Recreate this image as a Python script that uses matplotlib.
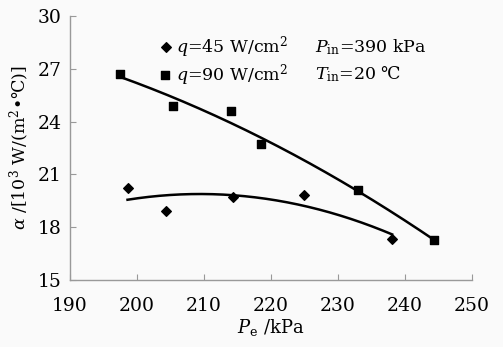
import numpy as np
import matplotlib
matplotlib.use("Agg")
import matplotlib.pyplot as plt

# heat transfer coefficient vs evaporating pressure
pe_45 = [198.6, 204.3, 214.4, 224.9, 238.1]
alpha_45 = [20.2, 18.9, 19.7, 19.85, 17.35]
pe_90 = [197.5, 205.4, 214.0, 218.5, 233.0, 244.4]
alpha_90 = [26.7, 24.9, 24.6, 22.7, 20.1, 17.25]

xticks = [190, 200, 210, 220, 230, 240, 250]
yticks = [15, 18, 21, 24, 27, 30]

plt.rcParams.update({
    "font.family": ["DejaVu Serif", "DejaVu Sans"],
    "mathtext.fontset": "dejavuserif",
    "font.size": 12,
})

BG = "#fafafa"
SPINE = "#999999"

fig = plt.figure(figsize=(5.03, 3.47), dpi=100, facecolor=BG)
ax = fig.add_axes([0.139, 0.193, 0.799, 0.761], facecolor=BG)

# quadratic trendlines through each series
for x, y in [(pe_45, alpha_45), (pe_90, alpha_90)]:
    c = np.polyfit(x, y, 2)
    xs = np.linspace(min(x), max(x), 200)
    ax.plot(xs, np.polyval(c, xs), color="black", lw=1.8, zorder=2)

ax.scatter(pe_45, alpha_45, marker="D", s=24, color="black", zorder=3)
ax.scatter(pe_90, alpha_90, marker="s", s=30, color="black", zorder=3)

ax.set_xlim(190, 250)
ax.set_ylim(15, 30)
ax.set_xticks(xticks)
ax.set_yticks(yticks)
for s in ["top", "right"]:
    ax.spines[s].set_visible(False)
for s in ["left", "bottom"]:
    ax.spines[s].set_color(SPINE)
    ax.spines[s].set_linewidth(1.0)
ax.tick_params(axis="x", direction="in", length=4, color=SPINE, pad=12, labelsize=13.5)
ax.tick_params(axis="y", direction="in", length=4, color=SPINE, pad=6, labelsize=13.5)

ax.set_xlabel(r"$P_{\rm e}$ /kPa", fontsize=13, labelpad=2)
ax.set_ylabel(r"$\alpha$ /[10$^3$ W/(m$^2$•℃)]", fontsize=12.5, labelpad=4)

# legend-style annotations
ax.scatter([0.239], [0.883], marker="D", s=24, color="black", transform=ax.transAxes, clip_on=False)
ax.scatter([0.237], [0.778], marker="s", s=30, color="black", transform=ax.transAxes, clip_on=False)
ax.text(0.265, 0.883, r"$q$=45 W/cm$^2$", transform=ax.transAxes, va="center", fontsize=12.5)
ax.text(0.265, 0.778, r"$q$=90 W/cm$^2$", transform=ax.transAxes, va="center", fontsize=12.5)
ax.text(0.61, 0.883, r"$P_{\rm in}$=390 kPa", transform=ax.transAxes, va="center", fontsize=12.5)
ax.text(0.61, 0.778, r"$T_{\rm in}$=20 ℃", transform=ax.transAxes, va="center", fontsize=12.5)

fig.savefig("out.png", dpi=100, facecolor=BG)
